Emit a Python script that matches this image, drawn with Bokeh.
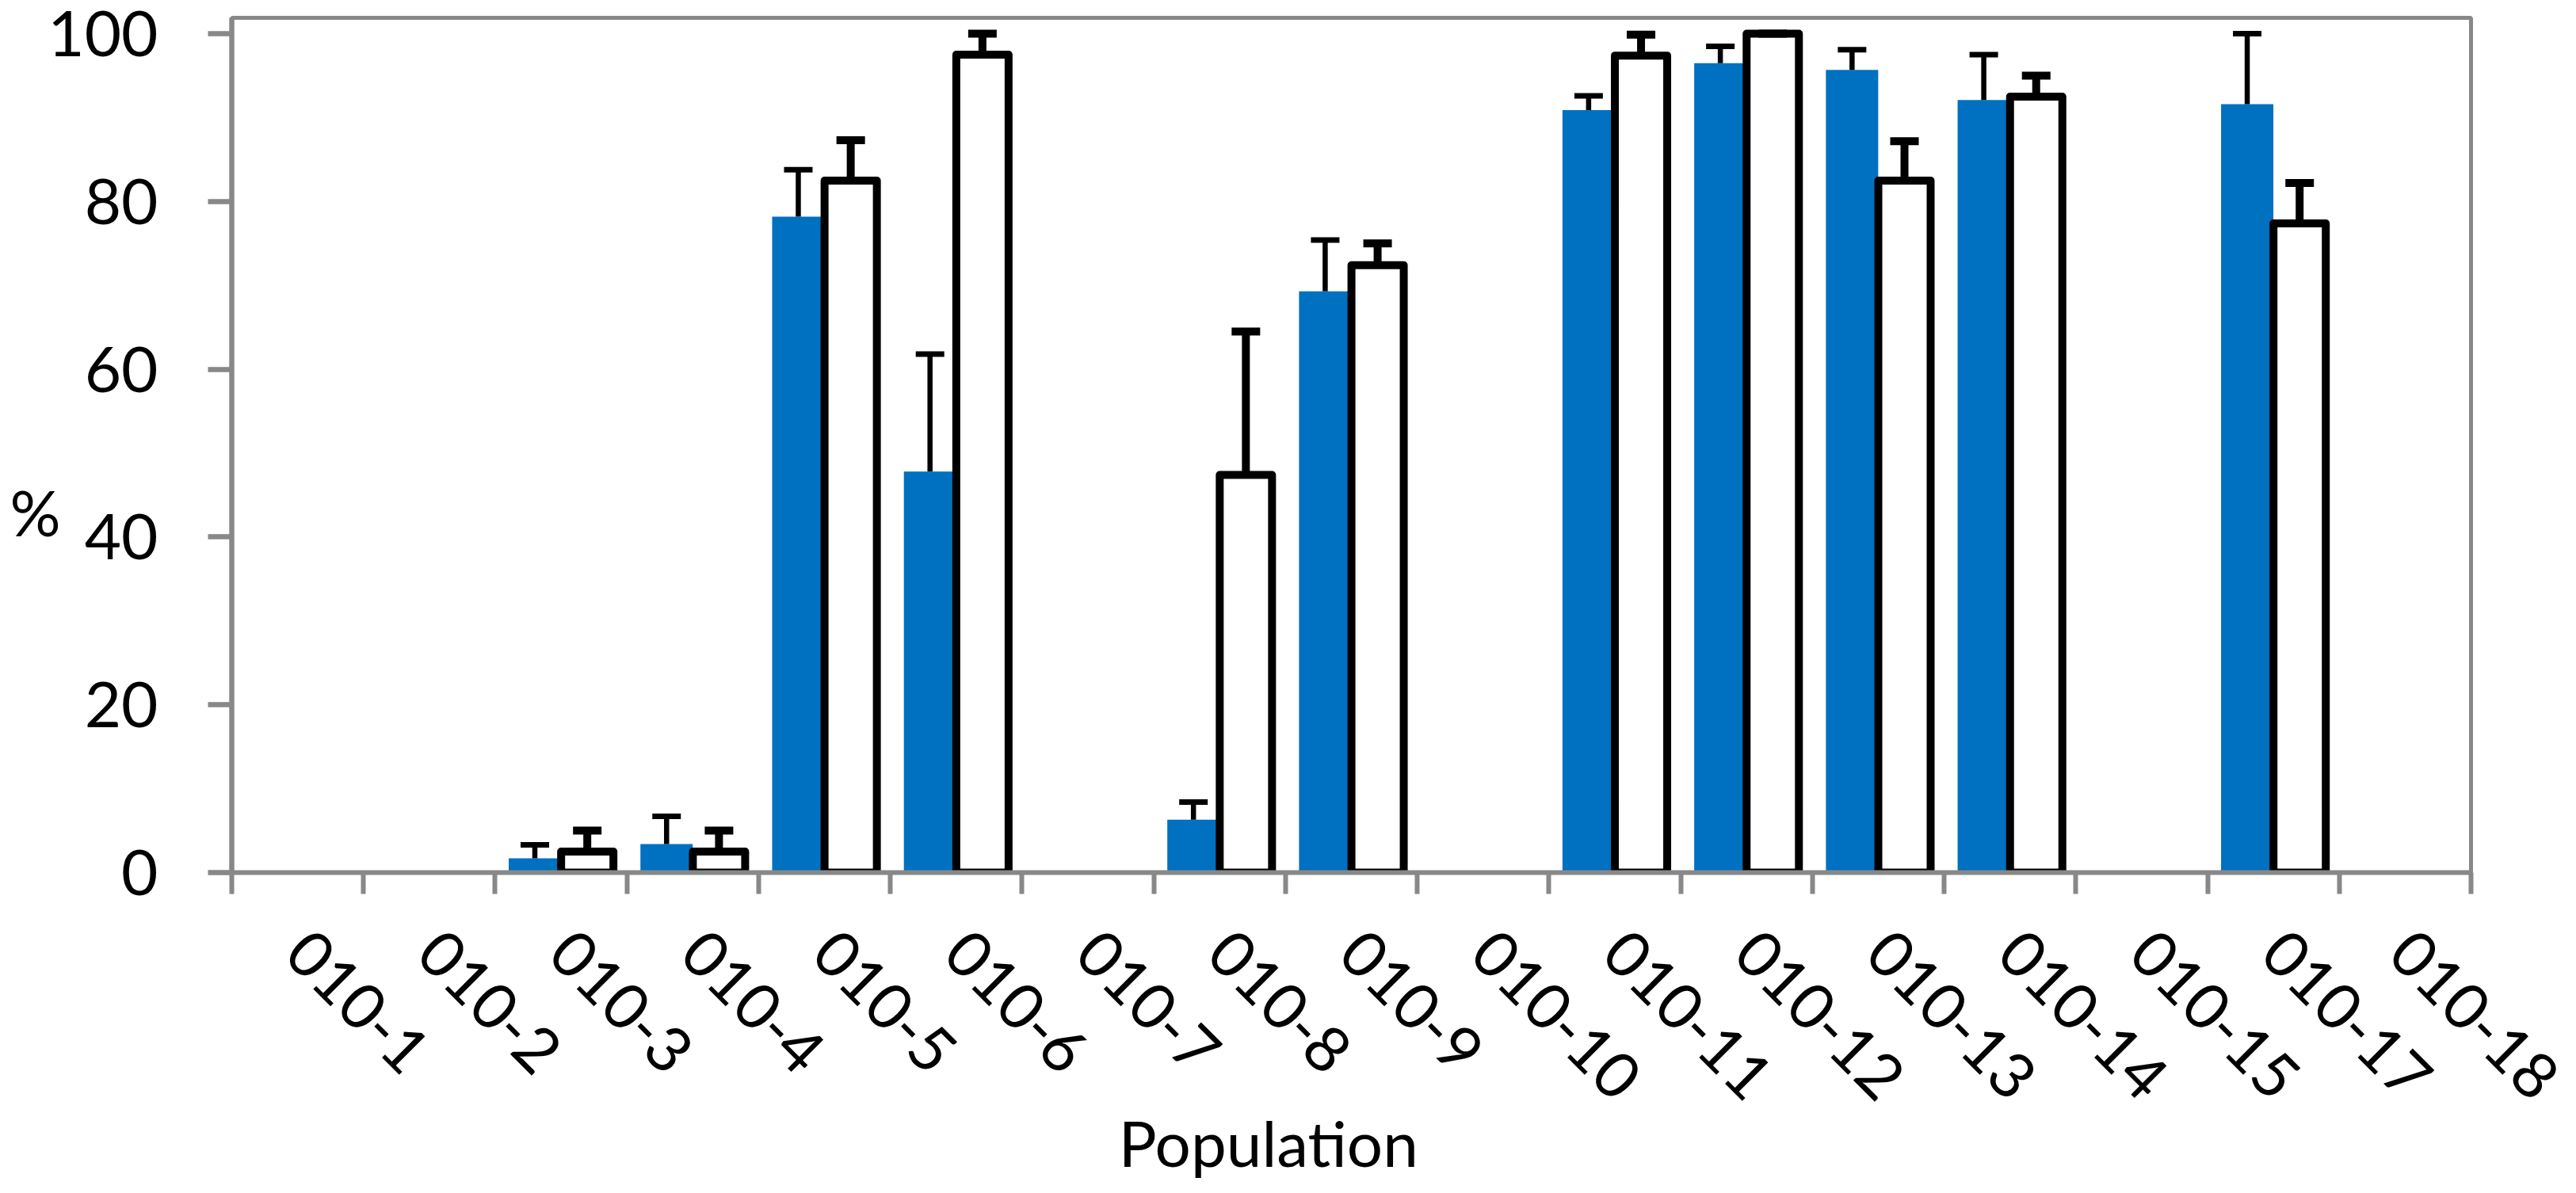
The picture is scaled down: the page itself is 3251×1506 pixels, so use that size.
import math
from bokeh.plotting import figure
from bokeh.models import FixedTicker, Whisker, TeeHead, ColumnDataSource, Range1d, LinearAxis
from bokeh.embed import file_html
from bokeh.resources import INLINE

# ---------------- data ----------------
categories = ["010-1", "010-2", "010-3", "010-4", "010-5", "010-6", "010-7", "010-8",
              "010-9", "010-10", "010-11", "010-12", "010-13", "010-14", "010-15",
              "010-17", "010-18"]
blue_mean = [0, 0, 1.7, 3.4, 78.2, 47.8, 0, 6.3, 69.3, 0, 90.9, 96.5, 95.7, 92.1, 0, 91.6, 0]
blue_err = [0, 0, 1.6, 3.3, 5.6, 14.0, 0, 2.1, 6.1, 0, 1.7, 2.0, 2.4, 5.4, 0, 8.4, 0]
white_mean = [0, 0, 2.5, 2.5, 82.5, 97.5, 0, 47.4, 72.4, 0, 97.4, 100, 82.5, 92.5, 0, 77.4, 0]
white_err = [0, 0, 2.5, 2.5, 4.8, 2.5, 0, 17.1, 2.6, 0, 2.5, 0, 4.7, 2.5, 0, 4.8, 0]
y_ticks = [0, 20, 40, 60, 80, 100]
x_title = "Population"
y_title = "%"

BLUE = "#0070C0"
GRAY = "#888888"
FONT = "Lato"
FS = "80px"
OFF = 0.199
BW = 0.397

n = len(categories)
centers = [i + 0.5 for i in range(n)]


def make_source(means, errs, shift):
    idx = [i for i in range(n) if means[i] > 0]
    return ColumnDataSource(dict(
        x=[centers[i] + shift for i in idx],
        mean=[means[i] for i in idx],
        top=[means[i] + errs[i] for i in idx],
    ))


src_b = make_source(blue_mean, blue_err, -OFF)
src_w = make_source(white_mean, white_err, OFF)

p = figure(title=None, frame_width=2826, frame_height=1079,
           x_range=Range1d(0, n), y_range=Range1d(0, 101.9),
           output_backend="svg", toolbar_location=None,
           min_border_left=292, min_border_right=117,
           min_border_top=22, min_border_bottom=300)

p.background_fill_color = "white"
p.border_fill_color = "white"
p.outline_line_color = GRAY
p.outline_line_width = 5
p.xgrid.visible = False
p.ygrid.visible = False

# error bars
wb = Whisker(source=src_b, base="x", lower="mean", upper="top", dimension="height",
             line_color="black", line_width=6.5,
             upper_head=TeeHead(size=36, line_color="black", line_width=7),
             lower_head=None, level="glyph")
ww = Whisker(source=src_w, base="x", lower="mean", upper="top", dimension="height",
             line_color="black", line_width=10,
             upper_head=TeeHead(size=36, line_color="black", line_width=10),
             lower_head=None, level="glyph")
p.add_layout(wb)
p.add_layout(ww)

# bars
p.vbar(x="x", top="mean", bottom=0, width=BW, source=src_b,
       fill_color=BLUE, line_color=None)
p.vbar(x="x", top="mean", bottom=0, width=BW, source=src_w,
       fill_color="white", line_color="black", line_width=10, line_join="round")

# x axis
xa = p.xaxis[0]
xa.ticker = FixedTicker(ticks=centers, minor_ticks=list(range(n + 1)))
xa.major_label_overrides = {c: cat for c, cat in zip(centers, categories)}
xa.major_label_orientation = -math.pi / 4
xa.major_tick_line_color = None
xa.major_tick_out = 27
xa.major_tick_in = 0
xa.minor_tick_line_color = GRAY
xa.minor_tick_line_width = 6
xa.minor_tick_out = 27
xa.minor_tick_in = 0
xa.axis_line_color = GRAY
xa.axis_line_width = 6
xa.major_label_standoff = 60
xa.major_label_text_font = FONT
xa.major_label_text_font_size = FS
xa.major_label_text_color = "black"

# y axis
ya = p.yaxis[0]
ya.ticker = FixedTicker(ticks=y_ticks)
ya.major_tick_line_color = GRAY
ya.major_tick_line_width = 6.5
ya.major_tick_out = 30
ya.major_tick_in = 0
ya.minor_tick_line_color = None
ya.axis_line_color = GRAY
ya.axis_line_width = 6.5
ya.major_label_standoff = 63
ya.major_label_text_font = FONT
ya.major_label_text_font_size = FS
ya.major_label_text_color = "black"


def title_axis(text, loc, standoff):
    # label-only axis carrying the axis title at the original's position
    axis = LinearAxis()
    axis.ticker = FixedTicker(ticks=[loc])
    axis.major_label_overrides = {loc: text}
    axis.axis_line_color = None
    axis.major_tick_line_color = None
    axis.minor_tick_line_color = None
    axis.major_tick_out = 0
    axis.major_tick_in = 0
    axis.major_label_standoff = standoff
    axis.major_label_text_font = FONT
    axis.major_label_text_font_size = FS
    axis.major_label_text_color = "black"
    return axis


p.add_layout(title_axis(x_title, 7.87, -23), "below")
p.add_layout(title_axis(y_title, 42.97, -19), "left")

open("out.html", "w").write(file_html(p, INLINE))
